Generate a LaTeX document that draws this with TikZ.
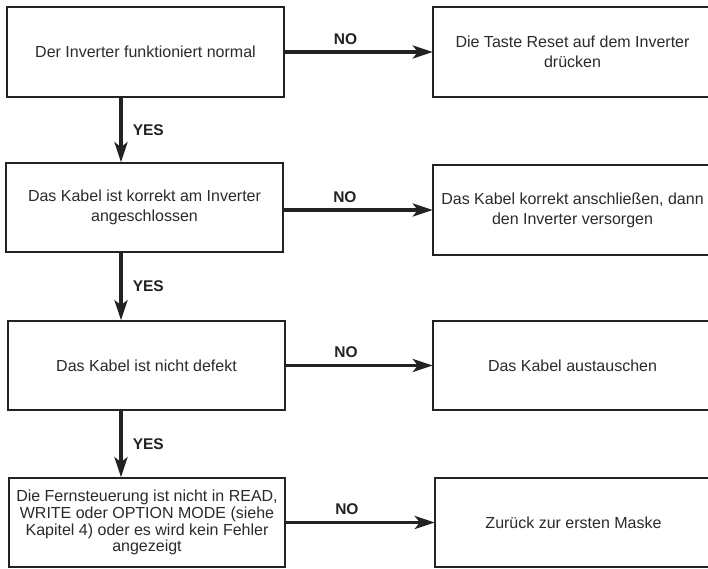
\documentclass[tikz,border=0pt]{standalone}
\usepackage{fontspec}
\setmainfont{Liberation Sans}
\usetikzlibrary{arrows.meta}
\definecolor{ink}{HTML}{222222}
\definecolor{txt}{HTML}{2A2A2A}
\begin{document}
\begin{tikzpicture}[x=1pt,y=-1pt,
  txtbox/.style={rectangle, inner sep=0pt, align=center, text=txt, font=\fontsize{16}{20}\selectfont},
  box/.style={txtbox, draw=ink, line width=1.6pt},
  boxline/.style={draw=ink, line width=1.6pt},
  arr/.style={draw=ink, line width=3.6pt, -{Stealth[length=20pt,width=13pt,inset=5pt]}},
  lbl/.style={font=\bfseries\fontsize{15.5}{18}\selectfont, text=ink, inner sep=0pt}
]
\useasboundingbox (0,0) rectangle (708,568);
% left boxes
\node[box, minimum width=277pt, minimum height=90pt] (L1) at (145.5,52) {Der Inverter funktioniert normal};
\node[box, minimum width=277pt, minimum height=89pt] (L2) at (144.5,207.5) {Das Kabel ist korrekt am Inverter\\angeschlossen};
\node[box, minimum width=277pt, minimum height=89pt] (L3) at (146.5,365.5) {Das Kabel ist nicht defekt};
\node[box, minimum width=276pt, minimum height=89pt, font=\fontsize{16}{16.8}\selectfont] (L4) at (147,522.5) {Die Fernsteuerung ist nicht in READ,\\WRITE oder OPTION MODE (siehe\\Kapitel 4) oder es wird kein Fehler\\angezeigt};
% right boxes (their right edge runs off the page)
\node[txtbox, minimum width=279pt, minimum height=90pt] (R1) at (572.5,52) {Die Taste Reset auf dem Inverter\\drücken};
\node[txtbox, minimum width=279pt, minimum height=90pt] (R2) at (572.5,210) {Das Kabel korrekt anschließen, dann\\den Inverter versorgen};
\node[txtbox, minimum width=279pt, minimum height=89pt] (R3) at (572.5,365.5) {Das Kabel austauschen};
\node[txtbox, minimum width=277pt, minimum height=89pt] (R4) at (573.5,522.5) {Zurück zur ersten Maske};
\foreach \r in {R1,R2,R3,R4}
  \draw[boxline] (\r.north west) rectangle ([xshift=30pt]\r.south east);
% axis for vertical arrows
\coordinate (ax) at (121,0);
% NO arrows
\draw[arr] (L1.east) -- node[lbl, pos=0.41, above=6pt] (no1) {NO} (L1.east -| R1.west);
\draw[arr] (L2.east |- R2.west) -- node[lbl, pos=0.41, above=6pt] (no2) {NO} (R2.west);
\draw[arr] (L3.east) -- node[lbl, pos=0.41, above=6pt] (no3) {NO} (L3.east -| R3.west);
\draw[arr] (L4.east) -- node[lbl, pos=0.41, above=6pt] (no4) {NO} (L4.east -| R4.west);
% YES arrows
\draw[arr] (L1.south -| ax) -- node[lbl, right=10pt] (yes1) {YES} (L2.north -| ax);
\draw[arr] (L2.south -| ax) -- node[lbl, right=10pt] (yes2) {YES} (L3.north -| ax);
\draw[arr] (L3.south -| ax) -- node[lbl, right=10pt] (yes3) {YES} (L4.north -| ax);
\end{tikzpicture}
\end{document}
